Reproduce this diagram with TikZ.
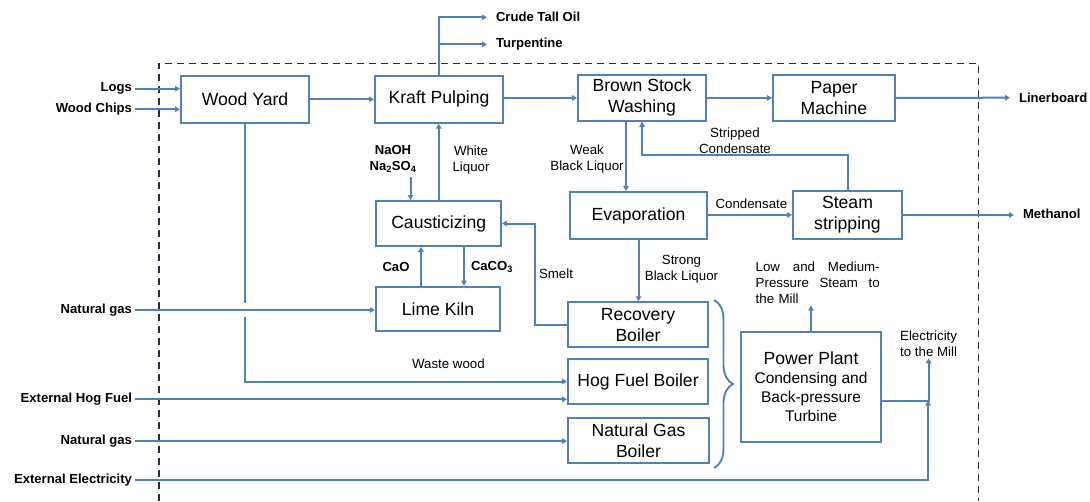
\documentclass[tikz,border=0pt]{standalone}
\usepackage{fontspec}
\setmainfont{Liberation Sans}
\usepackage{tikz}
\usetikzlibrary{arrows.meta}
\usetikzlibrary{decorations.pathreplacing}
\usetikzlibrary{calc}

\definecolor{flowblue}{RGB}{79,129,189}
\definecolor{framedark}{RGB}{35,45,60}

\tikzset{
  unit/.style={draw=flowblue, line width=2pt, fill=white, align=center,
    inner sep=0pt, font=\fontsize{17.6}{21}\selectfont},
  flow/.style={draw=flowblue, line width=2pt, -{Triangle[length=5pt,width=5.5pt]}},
  brace/.style={draw=flowblue, line width=1.9pt,
    decorate, decoration={brace, amplitude=19pt}},
  frame/.style={draw=framedark, line width=1.4pt, dash pattern=on 7pt off 5pt},
  feed/.style={font=\bfseries\fontsize{13.1}{16}\selectfont, inner sep=0pt,
    outer xsep=3pt, anchor=east},
  product/.style={font=\bfseries\fontsize{13.1}{16}\selectfont, inner sep=0pt,
    outer xsep=9pt, anchor=west},
  note/.style={font=\fontsize{13.3}{16}\selectfont, inner sep=0pt,
    outer sep=2pt, align=center},
}

\begin{document}
\begin{tikzpicture}[x=1pt, y=-1pt]
    \useasboundingbox (0,0) rectangle (1090,501);

    % Mill boundary
    \draw[frame] (159,501) |- (978.6,63.3) -- (978.6,501);

    % Fiber line
    \node[unit, minimum width=128pt, minimum height=47pt] (wood) at (245,99.2) {Wood Yard};
    \node[unit, minimum width=128pt, minimum height=47pt] (kraft) at (439,99.2) {Kraft Pulping};
    \node[unit, minimum width=128pt, minimum height=45.7pt] (wash) at (642,97.9) {Brown Stock\\Washing};
    \node[unit, minimum width=122pt, minimum height=45.7pt] (paper) at (834,97.9) {Paper\\Machine};

    % Chemical recovery
    \node[unit, minimum width=124.5pt, minimum height=45pt] (caust) at (438.7,223.5) {Causticizing};
    \node[unit, minimum width=124pt, minimum height=44.3pt] (kiln) at (438,308.8) {Lime Kiln};
    \node[unit, minimum width=137pt, minimum height=47.3pt] (evap) at (638.5,215.7) {Evaporation};
    \node[unit, minimum width=109pt, minimum height=47.4pt] (strip) at (847.5,215) {Steam\\stripping};

    % Boilers and power plant
    \node[unit, minimum width=140pt, minimum height=45pt] (recov) at (638,324.8) {Recovery\\Boiler};
    \node[unit, minimum width=140pt, minimum height=44.4pt] (hog) at (638,381.5) {Hog Fuel Boiler};
    \node[unit, minimum width=141pt, minimum height=44.4pt] (ngboil) at (638.5,440.5) {Natural Gas\\Boiler};
    \node[unit, minimum width=140pt, minimum height=110pt, font=\fontsize{15.5}{19}\selectfont] (power) at (811,386.7)
        {{\fontsize{17.6}{19}\selectfont Power Plant}\\Condensing and\\Back-pressure\\Turbine};

    % Feeds
    \node[feed] (logs) at (135,88.7) {Logs};
    \node[feed] (chips) at (135,109.3) {Wood Chips};
    \node[feed] (gas1) at (135,310) {Natural gas};
    \node[feed] (hogfuel) at (135,399.3) {External Hog Fuel};
    \node[feed] (gas2) at (135,441) {Natural gas};
    \node[feed] (extelec) at (135,480) {External Electricity};

    % Products
    \node[product] (oil) at (487,17.3) {Crude Tall Oil};
    \node[product] (turp) at (487,44.3) {Turpentine};
    \node[product] (liner) at (1010,97.7) {Linerboard};
    \node[product] (meth) at (1014,214.3) {Methanol};

    % Stream labels
    \node[note, font=\bfseries\fontsize{13.1}{16}\selectfont] (makeuplbl) at (393,158.7) {NaOH\\Na\textsubscript{2}SO\textsubscript{4}};
    \node[note] (whitelbl) at (471,160) {White\\Liquor};
    \node[note, font=\bfseries\fontsize{13.1}{16}\selectfont] (caolbl) at (396,266.7) {CaO};
    \node[note, font=\bfseries\fontsize{13.1}{16}\selectfont] (caco3lbl) at (492,266.7) {CaCO\textsubscript{3}};
    \node[note] (smeltlbl) at (556,274) {Smelt};
    \node[note] (weaklbl) at (587,158.7) {Weak\\Black Liquor};
    \node[note] (strippedlbl) at (735,140.8) {Stripped\\Condensate};
    \node[note] (condlbl) at (751.4,204) {Condensate};
    \node[note] (stronglbl) at (681.5,269.2) {Strong\\Black Liquor};
    \node[note] (wastelbl) at (448.4,363.3) {Waste wood};
    \node[note, align=left, text width=124pt] (steammill) at (817.7,282.7)
        {Low\hfill and\hfill Medium-\\Pressure\hfill Steam\hfill to\\the Mill};
    \node[note] (elecmill) at (928.6,343.4) {Electricity\\to the Mill};

    % Fiber flows
    \draw[flow] (logs.east) -- (logs.east -| wood.west);
    \draw[flow] (chips.east) -- (chips.east -| wood.west);
    \draw[flow] (wood) -- (kraft);
    \draw[flow] (kraft.east |- wash) -- (wash.west);
    \draw[flow] (wash) -- (paper);
    \draw[flow] (paper.east) -- (liner.west);
    \draw[flow] (kraft.north) |- (oil.west);
    \draw[flow] (kraft.north |- turp.west) -- (turp.west);

    % Liquor loop
    \coordinate (makeup) at (410.5,176.7);
    \draw[flow] (makeup) -- (makeup |- caust.north);
    \draw[flow] (caust.north) -- (caust.north |- kraft.south);
    \draw[flow] ([xshift=-17pt]kiln.north) -- ([xshift=-17pt]kiln.north |- caust.south);
    \draw[flow] ([xshift=26pt]kiln.north |- caust.south) -- ([xshift=26pt]kiln.north);
    \coordinate (smeltturn) at (535,223.5);
    \draw[flow] (recov.west) -| (smeltturn) -- (caust.east);
    \draw[flow] ([xshift=-16pt]wash.south) -- ([xshift=-16pt]wash.south |- evap.north);
    \coordinate (stripturn) at (642,155);
    \draw[flow] (strip.north) |- (stripturn) -- (wash.south);
    \draw[flow] (evap.east |- strip.west) -- (strip.west);
    \draw[flow] (strip.east) -- (strip.east -| meth.west);
    \draw[flow] (evap.south) -- (evap.south |- recov.north);

    % Fuels
    \draw[flow] (wood.south) |- (hog.west);
    \fill[white] (241.5,303) rectangle (248.5,317);
    \draw[flow] (gas1.east) -- (gas1.east -| kiln.west);
    \draw[flow] (hogfuel.east) -- (hogfuel.east -| hog.west);
    \draw[flow] (gas2.east) -- (gas2.east -| ngboil.west);

    % Steam and power
    \draw[brace] (714,300) -- (714,468);
    \coordinate (elecjoin) at (928,400.7);
    \draw[flow] (power.east |- elecjoin) -| (elecmill.south);
    \draw[flow] (extelec.east) -| (elecjoin);
    \draw[flow] (power.north) -- (power.north |- steammill.south);

\end{tikzpicture}
\end{document}
